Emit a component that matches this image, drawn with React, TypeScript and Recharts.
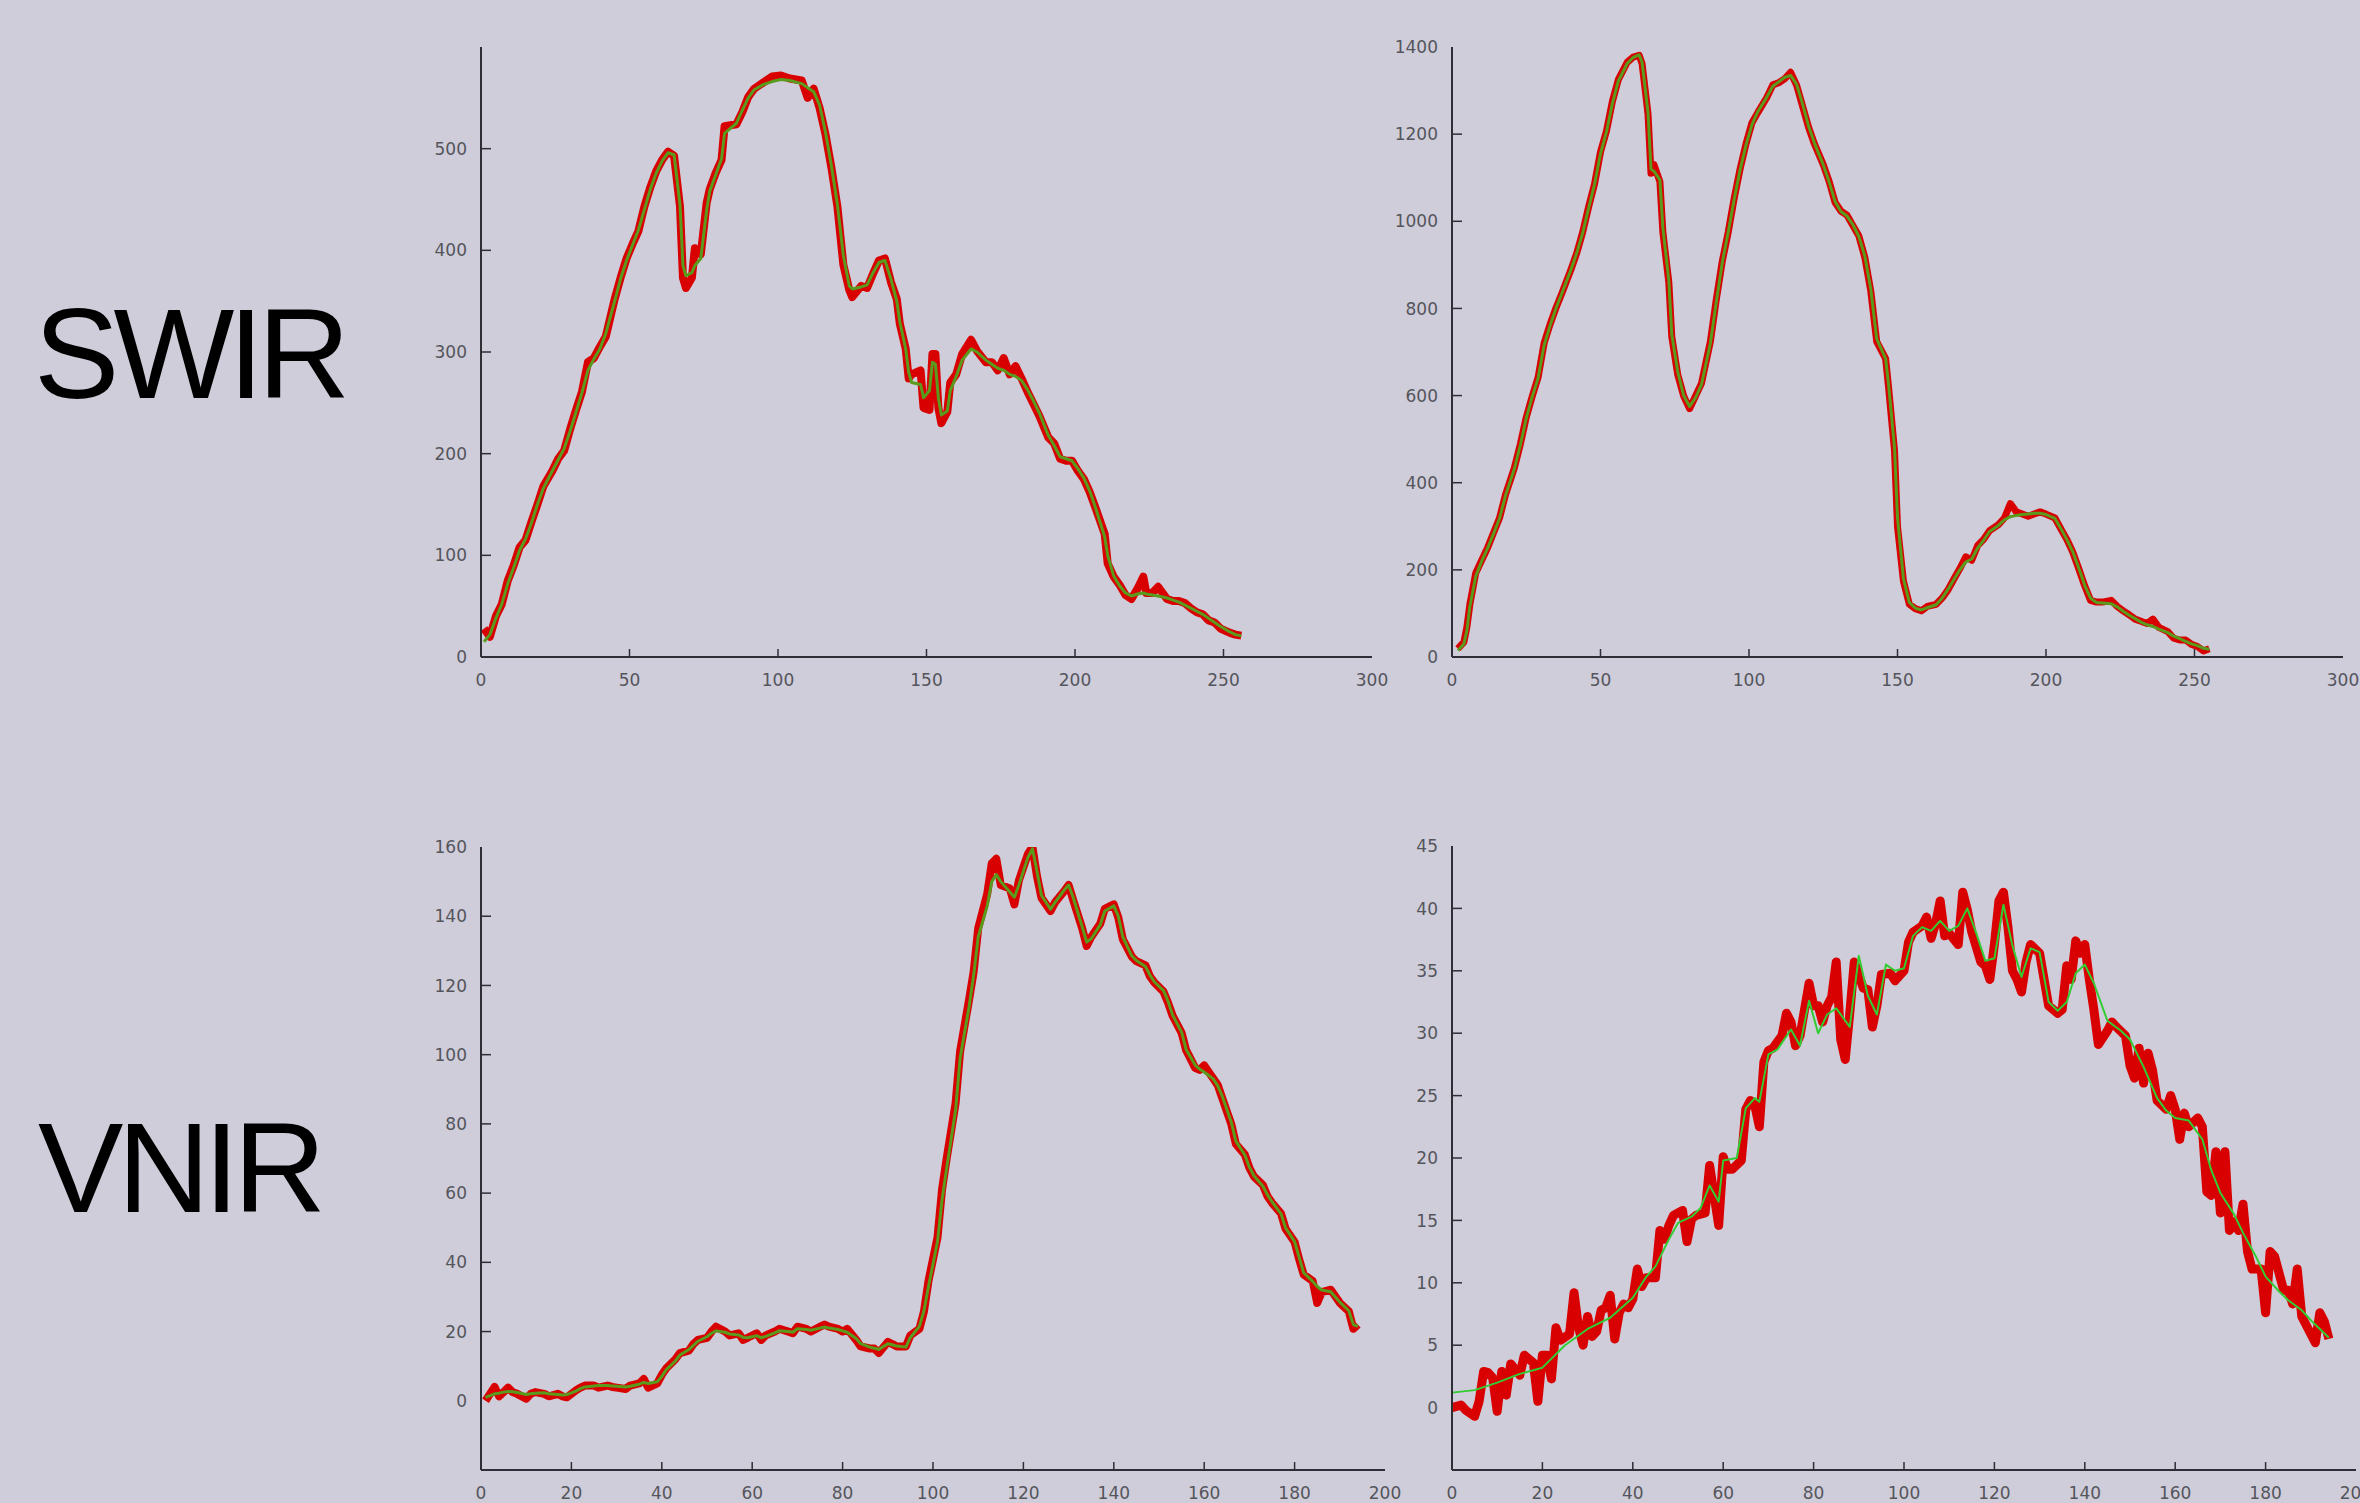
import React from 'react';
import { LineChart, Line, XAxis, YAxis } from 'recharts';

// SWIR, first band (top left)
const swirAX = [1,3,5,7,9,11,13,15,17,19,21,24,26,28,30,32,34,36,38,40,42,45,47,49,51,53,55,57,59,61,63,65,67,68,69,71,72,74,76,77,79,81,82,86,88,90,92,95,98,101,104,108,110,112,114,116,118,120,122,124,125,128,130,132,134,136,138,140,141,143,144,145,148,149,151,152,153,154,155,157,158,160,162,165,167,170,172,174,176,178,180,182,184,186,188,191,193,195,197,199,201,203,205,207,210,211,213,215,217,219,221,223,224,226,228,231,233,235,237,239,241,243,245,247,249,252,254,256];
const swirARaw = [28,20,40,52,75,90,108,115,133,150,168,183,195,203,224,243,261,290,294,305,315,352,373,392,406,419,443,462,478,489,497,493,443,373,363,373,402,396,447,460,476,489,522,524,536,551,559,565,571,572,569,567,550,559,540,514,481,443,386,361,354,365,363,377,390,392,369,352,328,303,274,278,282,245,243,298,298,245,230,241,270,278,298,312,301,290,290,282,294,278,286,274,261,249,237,216,210,195,193,193,183,175,162,146,121,92,79,71,61,57,67,79,63,63,69,57,55,55,53,48,44,42,36,34,28,24,22,21];
const swirASmooth = [15,22,38,52,72,88,105,116,132,150,166,183,194,205,222,241,260,282,293,303,318,350,372,390,405,420,440,460,476,488,496,494,445,385,375,378,385,392,440,458,474,490,515,525,538,550,558,563,566,568,567,564,560,556,543,516,483,445,395,365,362,364,366,378,388,390,372,350,330,303,280,270,268,255,262,290,288,255,238,242,262,276,292,303,300,292,288,284,282,278,276,272,263,252,240,218,208,197,195,193,185,176,163,146,118,100,80,70,63,60,62,63,62,61,60,58,56,54,51,48,45,42,38,34,30,25,22,21];

// SWIR, second band (top right)
const swirBX = [2,4,5,6,8,10,12,14,16,18,21,23,25,27,29,31,33,35,37,40,42,44,46,48,50,52,54,56,59,61,63,64,66,67,68,70,71,73,74,76,78,80,82,84,87,89,91,93,95,97,99,101,103,106,108,110,112,114,116,118,120,122,125,127,129,131,133,135,137,139,141,143,146,147,149,150,152,154,156,158,160,163,165,167,169,171,173,175,177,179,181,184,186,188,190,192,194,196,198,200,203,205,207,209,211,213,215,217,219,222,224,226,228,230,232,234,236,238,241,243,245,247,249,251,253,255];
const swirBRaw = [19,34,68,120,193,222,251,285,319,372,434,488,550,598,642,720,763,801,835,888,927,975,1033,1086,1159,1207,1275,1325,1365,1377,1381,1362,1246,1110,1130,1091,975,860,735,648,599,570,599,628,724,821,908,975,1052,1120,1178,1226,1250,1284,1313,1318,1327,1342,1313,1265,1217,1178,1130,1091,1043,1023,1014,990,966,917,840,724,685,618,473,299,174,121,111,106,116,121,135,154,179,203,230,222,256,270,290,304,319,352,333,328,323,328,333,328,319,294,270,241,203,164,130,126,126,130,116,106,97,87,82,77,87,68,58,43,39,39,29,24,14,19];
const swirBSmooth = [15,30,60,115,185,220,250,283,318,370,432,486,548,597,640,715,760,800,835,888,927,973,1030,1085,1155,1205,1270,1322,1362,1376,1382,1365,1250,1120,1115,1095,985,865,740,655,600,575,595,625,720,815,905,975,1050,1118,1175,1222,1252,1285,1310,1320,1330,1335,1315,1270,1220,1180,1130,1090,1045,1022,1012,992,965,920,845,730,685,625,480,320,180,125,112,108,113,120,135,155,178,200,218,225,250,268,288,302,315,322,325,327,328,330,330,327,318,295,270,242,205,165,135,125,124,122,115,105,96,88,80,74,70,64,56,48,42,36,30,26,20,18];

// VNIR, first band (bottom left)
const vnirAX = [1,2,3,4,5,6,7,8,10,11,12,14,15,17,18,19,21,22,23,25,26,28,29,30,32,33,35,36,37,39,40,41,43,44,46,47,48,50,51,52,54,55,57,58,59,61,62,63,65,66,68,69,70,72,73,75,76,77,79,80,81,83,84,86,87,88,90,91,92,94,95,97,98,99,101,102,103,105,106,108,109,110,112,113,114,115,117,118,119,121,122,123,124,126,127,129,130,131,133,134,135,137,138,140,141,142,144,145,147,148,149,151,152,153,155,156,158,159,160,162,163,164,166,167,169,170,171,173,174,175,177,178,180,181,182,184,185,186,188,189,190,192,193,194];
const vnirARaw = [0,2,4,1.3,2.5,3.8,2.5,2,0.6,2,2.5,2,1.3,2,1.3,1,3,3.8,4.4,4.4,3.8,4.4,4,3.8,3.4,4.4,5,6.3,3.8,5,7.5,9.4,12,13.8,14.5,16.4,17.6,18.2,20,21.4,20,18.9,19.5,17.6,18.2,19.5,17.6,18.9,20,20.8,20,19.5,21.4,20.8,20,21.4,22,21.4,20.8,20,20.8,17.6,15.7,15.1,15.1,13.8,17,16.4,15.7,15.7,18.9,20.8,25.8,34.6,47.2,61,69.8,86,101,116,124,136.5,146.5,155.3,156.6,149,148,143.4,150.3,158,160,151.6,145.3,141.5,144,147.2,149,144.7,136.5,131.4,134,137.8,142.1,143.4,139.6,133.3,128.3,127,125.8,122.6,120.8,118.2,115,111.3,106.3,101.3,96.2,95.6,96.9,93.1,91.2,87.4,79.9,74.2,71.1,67.3,64.8,62.3,59.1,57.2,54.1,49.7,45.9,40.9,36.5,34.6,28.3,31.4,32.1,30.2,28.3,25.8,20.8,22];
const vnirASmooth = [1,1.5,2,2.2,2.5,2.7,2.6,2.4,1.8,2,2.2,2.3,2,1.8,1.7,1.8,2.8,3.5,4,4.3,4.4,4.4,4.3,4.2,4,4.2,4.8,5.3,5,5.5,7,9,11.5,13.2,14.8,16,17.2,18.5,19.5,20.2,19.8,19.3,19,18.3,18.2,18.8,18.2,18.6,19.6,20.2,20,19.8,20.8,20.6,20.4,21,21.3,21,20.6,20.2,19.8,18,16.5,15.5,15.2,14.8,16.5,16.2,15.8,15.5,18.3,21.5,26,33,46,58,67,84,99,114,123,134,143,150,152,150,147,145.5,149,157,159.5,153,146,142,144,147.5,149,145.5,137,132.5,133.5,137.5,141.5,143,140,134,128.5,127.2,125.5,123,121,118.5,115.5,111.5,106.5,101.5,97,95.8,95,93,91,88,80.5,75,71,67.5,65,62,59.5,57.5,54,50,46,41.5,37,34.5,33,32,31.5,30,28.5,26,22,21.5];

// VNIR, second band (bottom right)
const vnirBX = [0,2,3,5,6,7,8,9,10,11,12,13,15,16,18,19,20,21,22,23,24,26,27,28,29,30,31,32,33,34,35,36,37,38,39,40,41,42,43,45,46,47,48,49,51,52,53,54,56,57,58,59,60,61,62,64,65,66,67,68,69,70,71,73,74,75,76,77,79,80,81,82,83,84,85,86,87,88,89,91,92,93,94,95,97,98,100,101,102,104,105,106,107,108,109,110,112,113,114,115,117,118,119,120,121,122,123,124,125,126,127,128,130,131,132,134,135,136,137,138,139,140,141,142,143,145,146,147,149,150,151,152,153,154,155,156,158,159,160,161,162,163,165,166,167,168,169,170,171,172,173,174,175,176,177,179,180,181,182,184,185,186,187,188,189,191,192,193,194];
const vnirBRaw = [0,0.2,-0.2,-0.7,0.5,2.9,2.8,2.4,-0.3,2.9,1,3.5,2.6,4.2,3.6,0.5,4.2,4.2,2.3,6.4,5.4,5.9,9.2,6.4,5,7.3,5.7,6.1,7.8,8,9,5.5,7.6,8.3,8,8.7,11.1,9.7,10.4,10.4,14.2,13.5,14.6,15.4,15.8,13.3,15.1,15.4,15.6,19.4,17,14.6,20.1,19.1,19.1,19.8,23.9,24.6,24.2,22.5,27.7,28.6,28.8,29.8,31.6,30.9,29,29.8,34,32.2,32.2,30.9,32.2,32.9,35.7,29.5,27.9,31.6,35.7,33.6,33.5,30.5,32.2,34.7,34.8,34.2,35,37.3,38.1,38.6,39.3,37.6,38.8,40.6,37.8,38,37.1,41.3,39.9,38.1,35.7,35.4,34.3,37.1,40.6,41.3,38.5,35,34.3,33.3,35.7,37.1,36.4,34.3,32.2,31.6,31.9,35.4,34.3,37.4,36.4,37.1,34.3,31.9,29.1,30.2,30.9,30.5,29.8,27.4,26.4,28.8,26,28.4,27,24.6,23.9,25,23.9,21.5,23.6,22.5,23.2,22.5,17.3,17,20.5,15.6,20.5,14.2,14.9,14.2,16.3,12.5,11.1,11.1,7.6,12.5,12.1,9.4,9.4,8.3,11.1,7.3,6.6,5.2,7.6,6.9,5.5];
const vnirBSmoothX = [0,5,10,15,20,25,30,35,40,43,45,48,50,53,55,57,59,60,63,65,67,68,70,72,75,77,79,81,83,85,88,90,92,94,96,98,100,102,104,106,108,110,112,114,116,118,120,122,124,126,128,130,132,134,136,138,140,142,145,148,150,153,156,158,160,163,166,168,170,173,175,178,180,183,185,188,190,194];
const vnirBSmooth = [1.2,1.4,2.0,2.7,3.2,5.0,6.3,7.2,8.8,10.5,11.3,13.5,14.8,15.3,16.0,17.8,16.5,19.8,20.0,24.0,24.8,24.5,28.3,28.7,30.3,29.0,32.6,30.0,31.5,32.0,30.5,36.2,33.0,31.5,35.5,35.0,35.2,37.8,38.5,38.2,39.0,38.2,38.6,40.0,38.0,35.8,36.0,40.3,37.0,34.5,36.8,36.5,32.5,31.8,32.5,34.8,35.5,34.0,31.0,30.2,29.5,27.3,24.8,23.8,23.2,23.0,21.5,19.0,17.2,15.5,14.0,12.0,10.5,9.3,8.6,7.8,7.0,5.6];

const swirXTicks = [0, 50, 100, 150, 200, 250, 300];
const vnirXTicks = [0, 20, 40, 60, 80, 100, 120, 140, 160, 180, 200];
const swirAYTicks = [0, 100, 200, 300, 400, 500];
const swirBYTicks = [0, 200, 400, 600, 800, 1000, 1200, 1400];
const vnirAYTicks = [0, 20, 40, 60, 80, 100, 120, 140, 160];
const vnirBYTicks = [0, 5, 10, 15, 20, 25, 30, 35, 40, 45];

const toPoints = (xs: number[], ys: number[]) => xs.map((x, i) => ({ x, y: ys[i] }));

const AXIS_COLOR = '#2e2e36';
const LABEL_COLOR = '#55555c';
const TICK_FONT = 'DejaVu Sans';

const yTick = (max: number) => (props: any) => {
  const { x, y, payload } = props;
  return (
    <g>
      {payload.value !== max && payload.value !== 0 && (
        <line x1={x} x2={x + 10} y1={y} y2={y} stroke={AXIS_COLOR} strokeWidth={1.5} />
      )}
      <text x={x - 14} y={y} dy="0.36em" textAnchor="end" fontSize={17} fill={LABEL_COLOR} fontFamily={TICK_FONT}>
        {payload.value}
      </text>
    </g>
  );
};

const xTick = (max: number) => (props: any) => {
  const { x, y, payload } = props;
  return (
    <g>
      {payload.value !== max && payload.value !== 0 && (
        <line x1={x} x2={x} y1={y} y2={y - 8} stroke={AXIS_COLOR} strokeWidth={1.5} />
      )}
      <text x={x} y={y + 29} textAnchor="middle" fontSize={17} fill={LABEL_COLOR} fontFamily={TICK_FONT}>
        {payload.value}
      </text>
    </g>
  );
};

interface PanelProps {
  axisX: number;
  plotTop: number;
  plotWidth: number;
  plotHeight: number;
  rightPad: number;
  xAxisHeight: number;
  xMax: number;
  xTicks: number[];
  yDomain: [number, number];
  yTicks: number[];
  raw: { x: number; y: number }[];
  smooth: { x: number; y: number }[];
  redWidth: number;
  greenWidth: number;
  greenColor: string;
}

const Panel = (p: PanelProps) => {
  const yAxisWidth = 60;
  const topPad = 27;
  return (
    <div style={{ position: 'absolute', left: p.axisX - yAxisWidth, top: p.plotTop - topPad }}>
      <LineChart
        width={yAxisWidth + p.plotWidth + p.rightPad}
        height={topPad + p.plotHeight + p.xAxisHeight}
        margin={{ top: topPad, right: p.rightPad, left: 0, bottom: 0 }}
      >
        <XAxis
          type="number"
          dataKey="x"
          domain={[0, p.xMax]}
          ticks={p.xTicks}
          height={p.xAxisHeight}
          tickSize={0}
          tickMargin={0}
          tick={xTick(p.xMax)}
          axisLine={{ stroke: AXIS_COLOR, strokeWidth: 2 }}
          tickLine={false}
          interval={0}
        />
        <YAxis
          type="number"
          domain={p.yDomain}
          ticks={p.yTicks}
          width={yAxisWidth}
          tickSize={0}
          tickMargin={0}
          tick={yTick(p.yDomain[1])}
          axisLine={{ stroke: AXIS_COLOR, strokeWidth: 2 }}
          tickLine={false}
          interval={0}
          allowDataOverflow
        />
        <Line
          data={p.raw}
          dataKey="y"
          type="linear"
          dot={false}
          stroke="#d80000"
          strokeWidth={p.redWidth}
          strokeLinejoin="round"
          isAnimationActive={false}
        />
        <Line
          data={p.smooth}
          dataKey="y"
          type="linear"
          dot={false}
          stroke={p.greenColor}
          strokeWidth={p.greenWidth}
          strokeLinejoin="round"
          isAnimationActive={false}
        />
      </LineChart>
    </div>
  );
};

const bandLabelStyle: React.CSSProperties = {
  fontFamily: 'Liberation Sans, Arial, sans-serif',
  fontSize: 128,
  letterSpacing: -6,
  fill: '#000',
};

const App = () => {
  return (
    <div
      style={{
        position: 'fixed',
        left: 0,
        top: 0,
        width: 2360,
        height: 1503,
        overflow: 'hidden',
        background: '#cfcdda',
      }}
    >
      <svg width={420} height={1503} style={{ position: 'absolute', left: 0, top: 0 }}>
        <text x={34} y={398} style={bandLabelStyle}>SWIR</text>
        <text x={38} y={1212} style={bandLabelStyle}>VNIR</text>
      </svg>
      <Panel
        axisX={481}
        plotTop={47}
        plotWidth={891}
        plotHeight={610}
        rightPad={30}
        xAxisHeight={40}
        xMax={300}
        xTicks={swirXTicks}
        yDomain={[0, 600]}
        yTicks={swirAYTicks}
        raw={toPoints(swirAX, swirARaw)}
        smooth={toPoints(swirAX, swirASmooth)}
        redWidth={8}
        greenWidth={3}
        greenColor="#5a9a1c"
      />
      <Panel
        axisX={1452}
        plotTop={47}
        plotWidth={891}
        plotHeight={610}
        rightPad={17}
        xAxisHeight={40}
        xMax={300}
        xTicks={swirXTicks}
        yDomain={[0, 1400]}
        yTicks={swirBYTicks}
        raw={toPoints(swirBX, swirBRaw)}
        smooth={toPoints(swirBX, swirBSmooth)}
        redWidth={7}
        greenWidth={3}
        greenColor="#5a9a1c"
      />
      <Panel
        axisX={481}
        plotTop={847}
        plotWidth={904}
        plotHeight={623}
        rightPad={30}
        xAxisHeight={33}
        xMax={200}
        xTicks={vnirXTicks}
        yDomain={[-20, 160]}
        yTicks={vnirAYTicks}
        raw={toPoints(vnirAX, vnirARaw)}
        smooth={toPoints(vnirAX, vnirASmooth)}
        redWidth={8}
        greenWidth={3}
        greenColor="#5a9a1c"
      />
      <Panel
        axisX={1452}
        plotTop={846}
        plotWidth={904}
        plotHeight={624}
        rightPad={30}
        xAxisHeight={33}
        xMax={200}
        xTicks={vnirXTicks}
        yDomain={[-5, 45]}
        yTicks={vnirBYTicks}
        raw={toPoints(vnirBX, vnirBRaw)}
        smooth={toPoints(vnirBSmoothX, vnirBSmooth)}
        redWidth={9}
        greenWidth={2}
        greenColor="#33cc33"
      />
    </div>
  );
};

export default App;
